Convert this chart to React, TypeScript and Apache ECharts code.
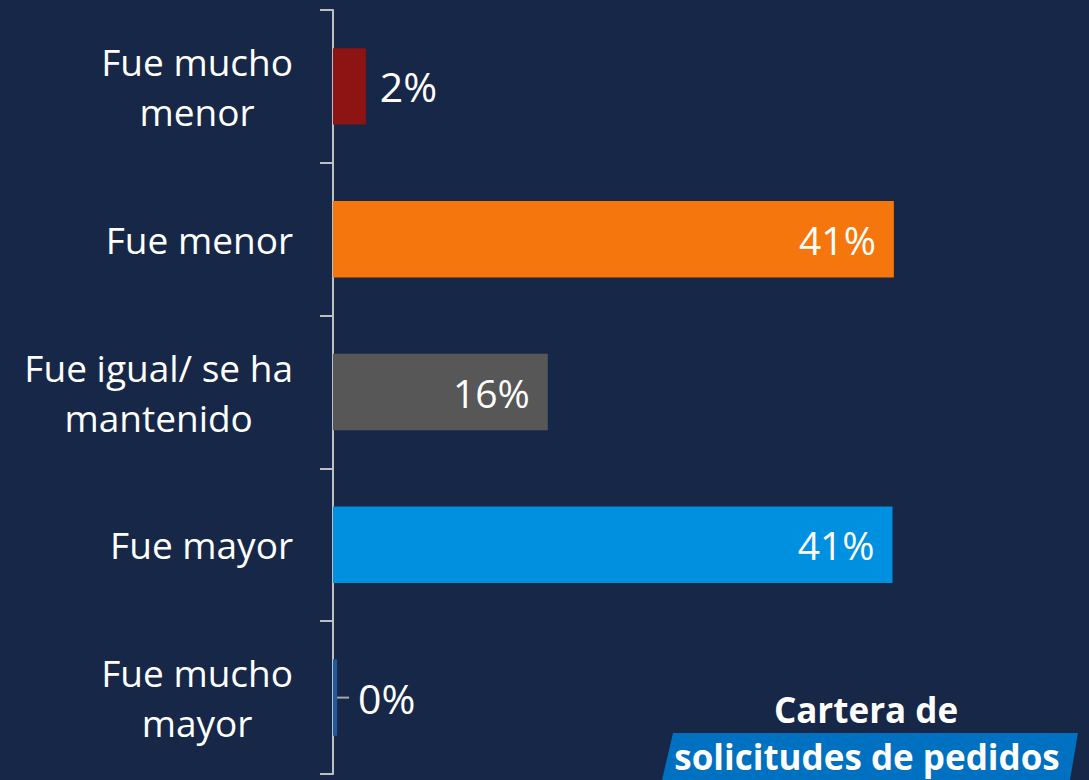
import React, { useEffect, useRef } from "react";
import * as echarts from "echarts";

const categories = [
  "Fue mucho\nmenor",
  "Fue menor",
  "Fue igual/ se ha\nmantenido",
  "Fue mayor",
  "Fue mucho\nmayor",
];
const values = [2.4, 41.0, 15.7, 40.9, 0.3];
const valueLabels = ["2%", "41%", "16%", "41%", "0%"];
const barColors = ["#8E1313", "#F4760C", "#575757", "#0090E0", "#1F5A9E"];
const labelPositions = ["right", "insideRight", "insideRight", "insideRight", "right"];
const titleLine1 = "Cartera de";
const titleLine2 = "solicitudes de pedidos";

const BG = "#172747";
const FONT = "'Open Sans', 'Noto Sans', sans-serif";

export default function App() {
  const ref = useRef<HTMLDivElement>(null);
  useEffect(() => {
    if (!ref.current) return;
    const chart = echarts.init(ref.current, null, { renderer: "svg" });
    const data = values.map((v, i) => {
      const isZeroLeader = i === 4;
      const outside = labelPositions[i] === "right";
      const fs = outside ? 41 : 39;
      return {
        value: v,
        itemStyle: { color: barColors[i] },
        label: {
          show: true,
          position: labelPositions[i],
          distance: isZeroLeader ? 0 : outside ? 14 : 18,
          formatter: isZeroLeader ? `{l|}{v|${valueLabels[i]}}` : valueLabels[i],
          color: "#FFFFFF",
          fontSize: fs,
          fontFamily: FONT,
          rich: {
            l: { width: 12, height: 2, backgroundColor: "#A6A6A6" },
            v: { fontSize: fs, fontFamily: FONT, color: "#FFFFFF", padding: [0, 0, 0, 9] },
          },
        },
      };
    });
    chart.setOption({
      animation: false,
      backgroundColor: BG,
      grid: { left: 333, top: 10, bottom: 6, right: 72, containLabel: false },
      xAxis: { type: "value", min: 0, max: 50, show: false },
      yAxis: {
        type: "category",
        inverse: true,
        data: categories,
        axisLine: { show: true, lineStyle: { color: "#BFBFBF", width: 2 } },
        axisTick: { show: true, length: 13, lineStyle: { color: "#BFBFBF", width: 2 } },
        axisLabel: {
          margin: 40,
          color: "#FFFFFF",
          fontSize: 37,
          fontFamily: FONT,
          formatter: (val: string) =>
            val
              .split("\n")
              .map((l) => `{c|${l}}`)
              .join("\n"),
          rich: {
            c: {
              align: "center",
              fontSize: 37,
              fontFamily: FONT,
              color: "#FFFFFF",
              lineHeight: 50,
            },
          },
        },
      },
      series: [
        {
          type: "bar",
          data,
          barWidth: "50%",
        },
      ],
      graphic: [
        {
          type: "polygon",
          shape: {
            points: [
              [673, 733],
              [1078, 733],
              [1070, 780],
              [662, 780],
            ],
          },
          style: { fill: "#0070C0" },
        },
        {
          type: "text",
          x: 866,
          y: 709,
          style: {
            text: titleLine1,
            fill: "#FFFFFF",
            font: `bold 35px ${FONT}`,
            align: "center",
            verticalAlign: "middle",
          },
        },
        {
          type: "text",
          x: 867,
          y: 756,
          style: {
            text: titleLine2,
            fill: "#FFFFFF",
            font: `bold 35px ${FONT}`,
            align: "center",
            verticalAlign: "middle",
          },
        },
      ],
    });
    return () => chart.dispose();
  }, []);
  return (
    <div
      ref={ref}
      style={{ position: "fixed", left: 0, top: 0, width: 1089, height: 780 }}
    />
  );
}
